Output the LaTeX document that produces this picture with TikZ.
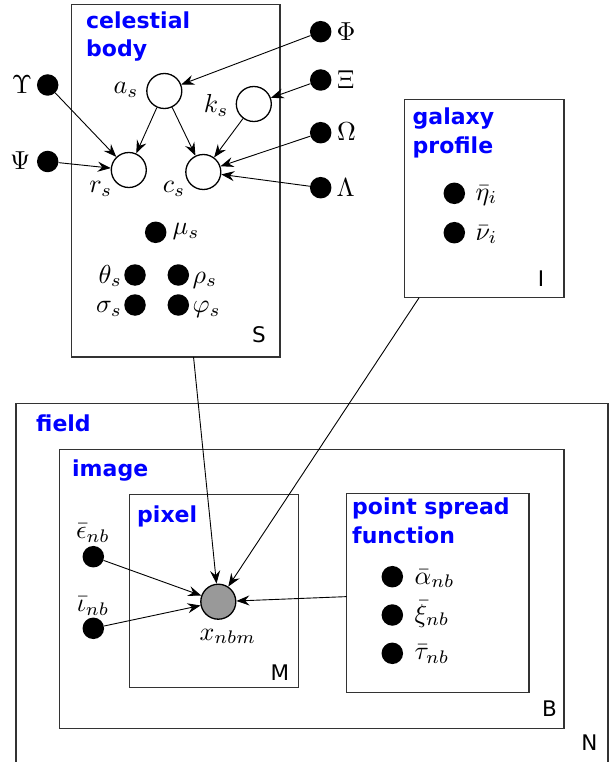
\documentclass[tikz,border=0pt]{standalone}
\usepackage{graphicx}
\usepackage{fontspec}
\newfontfamily\dvs{DejaVu Sans}
\usetikzlibrary{arrows.meta}
\newcommand\mlab[1]{\scalebox{2.6}{$#1$}}
\begin{document}
\begin{tikzpicture}[x=1pt,y=-1pt,
  plate/.style={draw=black!80, line width=1.1pt, inner sep=0pt, outer sep=0pt, anchor=north west},
  dot/.style={circle, fill=black, inner sep=0pt, minimum size=21.5pt},
  latent/.style={circle, draw=black, line width=1.3pt, fill=white, inner sep=0pt, minimum size=35pt},
  observed/.style={latent, fill=black!40},
  edge/.style={-{Stealth[length=13pt,width=10pt,inset=4.5pt]}, line width=0.9pt},
  ttl/.style={text=blue, font=\dvs\bfseries\fontsize{22}{28.5}\selectfont, align=left, inner sep=0pt, anchor=base west},
  plab/.style={font=\dvs\fontsize{21.5}{24}\selectfont, inner sep=0pt},
  ml/.style={inner sep=0pt}]
\useasboundingbox (0,0) rectangle (609,762);
% plates
\node[plate, minimum width=208.3pt, minimum height=352.3pt] (S) at (71.7,4.7) {};
\node[plate, minimum width=159.7pt, minimum height=198.4pt] (I) at (404.3,99.3) {};
\node[plate, minimum width=592pt, minimum height=380pt] (N) at (16,403.3) {};
\node[plate, minimum width=504.7pt, minimum height=279pt] (B) at (59.3,449.3) {};
\node[plate, minimum width=169pt, minimum height=193pt] (M) at (129.3,494.3) {};
\node[plate, minimum width=182.3pt, minimum height=199.4pt] (P) at (346.7,493.3) {};
% plate titles (base = last line)
\node[ttl] (Sttl) at (86,57) {celestial\\body};
\node[ttl] (Ittl) at (412.5,153.3) {galaxy\\profile};
\node[ttl] (Nttl) at (36,431) {field};
\node[ttl] (Bttl) at (72,476) {image};
\node[ttl] (Mttl) at (137,522) {pixel};
\node[ttl] (Pttl) at (352,543) {point spread\\function};
% plate letters
\node[plab] (Slet) at (259,335) {S};
\node[plab] (Ilet) at (541,278.3) {I};
\node[plab] (Mlet) at (280,672.5) {M};
\node[plab] (Blet) at (549.5,708.5) {B};
\node[plab] (Nlet) at (589.5,743) {N};
% latent nodes
\node[latent] (as) at (164.3,91) {};
\node[latent] (ks) at (253.8,104) {};
\node[latent] (rs) at (128.8,170) {};
\node[latent] (cs) at (203.3,172) {};
\node[observed] (x) at (218.3,601.7) {};
% dots
\node[dot] (Ups) at (47.7,85) {};
\node[dot] (Psi) at (47.7,161.5) {};
\node[dot] (Phi) at (320.7,31.7) {};
\node[dot] (Xi) at (320.7,80) {};
\node[dot] (Om) at (320.7,132.7) {};
\node[dot] (Lam) at (320.7,187.7) {};
\node[dot] (mu) at (155.7,232.3) {};
\node[dot] (th) at (135,275) {};
\node[dot] (rho) at (178.3,275) {};
\node[dot] (sig) at (135,305) {};
\node[dot] (vphi) at (178.3,305) {};
\node[dot] (eta) at (454.3,193.3) {};
\node[dot] (nu) at (454.3,232.7) {};
\node[dot] (eps) at (93.3,556.7) {};
\node[dot] (iota) at (93.3,628.3) {};
\node[dot] (alpha) at (392.3,576.7) {};
\node[dot] (xi) at (392.3,615) {};
\node[dot] (tau) at (392.3,653.3) {};
% labels
\node[ml, anchor=base east] (asL) at (138.8,94) {\mlab{a_s}};
\node[ml, anchor=base east] (ksL) at (228.8,112.5) {\mlab{k_s}};
\node[ml, anchor=base east] (rsL) at (112.5,193) {\mlab{r_s}};
\node[ml, anchor=base east] (csL) at (185.5,193) {\mlab{c_s}};
\node[ml, anchor=base] (xL) at (227.8,640) {\mlab{x_{nbm}}};
\node[ml, anchor=base east] (UpsL) at (32.2,93.3) {\mlab{\Upsilon}};
\node[ml, anchor=base east] (PsiL) at (30.5,170) {\mlab{\Psi}};
\node[ml, anchor=base west] (PhiL) at (336.5,40.5) {\mlab{\Phi}};
\node[ml, anchor=base west] (XiL) at (337,88.3) {\mlab{\Xi}};
\node[ml, anchor=base west] (OmL) at (336.8,140.7) {\mlab{\Omega}};
\node[ml, anchor=base west] (LamL) at (336.5,196.5) {\mlab{\Lambda}};
\node[ml, anchor=base west] (muL) at (172.5,234.5) {\mlab{\mu_s}};
\node[ml, anchor=base east] (thL) at (122.2,283) {\mlab{\theta_s}};
\node[ml, anchor=base west] (rhoL) at (192.5,283) {\mlab{\rho_s}};
\node[ml, anchor=base east] (sigL) at (122.2,312.5) {\mlab{\sigma_s}};
\node[ml, anchor=base west] (vphiL) at (192.5,312.5) {\mlab{\varphi_s}};
\node[ml, anchor=base west] (etaL) at (475.5,200) {\mlab{\bar{\eta}_i}};
\node[ml, anchor=base west] (nuL) at (475.5,240) {\mlab{\bar{\nu}_i}};
\node[ml, anchor=base] (epsL) at (93,538.5) {\mlab{\bar{\epsilon}_{nb}}};
\node[ml, anchor=base] (iotaL) at (93,611.7) {\mlab{\bar{\iota}_{nb}}};
\node[ml, anchor=base west] (alphaL) at (414.5,584) {\mlab{\bar{\alpha}_{nb}}};
\node[ml, anchor=base west] (xiL) at (414.5,622) {\mlab{\bar{\xi}_{nb}}};
\node[ml, anchor=base west] (tauL) at (414.5,659.5) {\mlab{\bar{\tau}_{nb}}};
% edges
\draw[edge] (Ups) -- (rs);
\draw[edge] (Psi) -- (rs);
\draw[edge] (as) -- (rs);
\draw[edge] (as) -- (cs);
\draw[edge] (ks) -- (cs);
\draw[edge] (Phi) -- (as);
\draw[edge] (Xi) -- (ks);
\draw[edge] (Om) -- (cs);
\draw[edge] (Lam) -- (cs);
\draw[edge] (S) -- (x);
\draw[edge] (I) -- (x);
\draw[edge] (P) -- (x);
\draw[edge] (eps) -- (x);
\draw[edge] (iota) -- (x);
\end{tikzpicture}
\end{document}
